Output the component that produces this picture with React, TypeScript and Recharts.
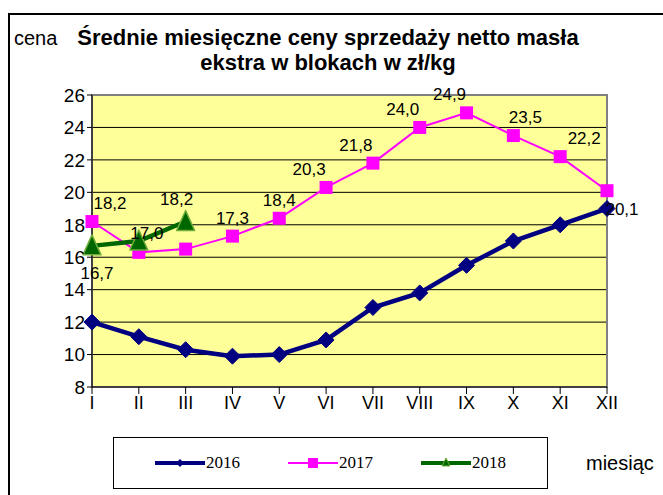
import React from "react";
import {
  LineChart,
  Line,
  XAxis,
  YAxis,
  CartesianGrid,
  ReferenceArea,
  LabelList,
} from "recharts";

const months = ["I", "II", "III", "IV", "V", "VI", "VII", "VIII", "IX", "X", "XI", "XII"];
const prices2016 = [12.0, 11.1, 10.3, 9.9, 10.0, 10.9, 12.9, 13.8, 15.5, 17.0, 18.0, 19.0];
const prices2017 = [18.2, 16.3, 16.5, 17.3, 18.4, 20.3, 21.8, 24.0, 24.9, 23.5, 22.2, 20.1];
const prices2018 = [16.7, 17.0, 18.2];
const yTicks = [8, 10, 12, 14, 16, 18, 20, 22, 24, 26];

const data = months.map((m, i) => ({
  month: m,
  y2016: prices2016[i],
  y2017: prices2017[i],
  y2018: i < prices2018.length ? prices2018[i] : null,
}));

const FONT = "'Liberation Sans', Arial, sans-serif";

const Diamond = (props: any) => {
  const { cx, cy } = props;
  if (cx == null || cy == null) return null;
  const r = 8;
  return (
    <path
      d={`M${cx},${cy - r}L${cx + r},${cy}L${cx},${cy + r}L${cx - r},${cy}Z`}
      fill="#000080"
      stroke="#000080"
    />
  );
};

const Square = (props: any) => {
  const { cx, cy } = props;
  if (cx == null || cy == null) return null;
  const r = 6.5;
  return <rect x={cx - r} y={cy - r} width={r * 2} height={r * 2} fill="#FF00FF" />;
};

const Triangle = (props: any) => {
  const { cx, cy } = props;
  if (cx == null || cy == null) return null;
  return (
    <path
      d={`M${cx},${cy - 11}L${cx + 9},${cy + 9}L${cx - 9},${cy + 9}Z`}
      fill="#006600"
      stroke="#6FAE3A"
      strokeWidth={1.5}
      strokeLinejoin="round"
    />
  );
};

const fmt = (v: number) => v.toFixed(1).replace(".", ",");

// placement of data labels, roughly as in the original
const label2017 = (props: any) => {
  const { x, y, value, index } = props;
  if (index === 1 || index === 2) return null;
  let dx = 0;
  let dy = -18;
  if (index === 0) dx = 18;
  if (index >= 5 && index <= 8) dx = -17;
  if (index === 9) dx = 12;
  if (index === 10) dx = 24;
  if (index === 11) {
    dx = 15;
    dy = 19;
  }
  return (
    <text x={x + dx} y={y + dy} textAnchor="middle" dominantBaseline="central" fontSize={17} fontFamily={FONT} fill="#000">
      {fmt(value)}
    </text>
  );
};

const label2018 = (props: any) => {
  const { x, y, value, index } = props;
  if (value == null) return null;
  let dx = 0;
  let dy = -22;
  if (index === 0) {
    dx = 5;
    dy = 28;
  }
  if (index === 1) {
    dx = 8;
    dy = -8;
  }
  if (index === 2) dx = -9;
  return (
    <text x={x + dx} y={y + dy} textAnchor="middle" dominantBaseline="central" fontSize={17} fontFamily={FONT} fill="#000">
      {fmt(value)}
    </text>
  );
};

const legendItems = [
  { name: "2016", color: "#000080", width: 4, marker: "diamond" },
  { name: "2017", color: "#FF00FF", width: 2, marker: "square" },
  { name: "2018", color: "#006600", width: 4, marker: "triangle" },
];

const LegendIcon = ({ item }: { item: (typeof legendItems)[number] }) => (
  <svg width={50} height={14} style={{ display: "block" }}>
    <line x1={0} y1={7} x2={50} y2={7} stroke={item.color} strokeWidth={item.width} strokeLinecap="round" />
    {item.marker === "diamond" && <path d="M25,3L29,7L25,11L21,7Z" fill="#000080" />}
    {item.marker === "square" && <rect x={20} y={2} width={10} height={10} fill="#FF00FF" />}
    {item.marker === "triangle" && <path d="M25,2L29,10L21,10Z" fill="#006600" stroke="#6FAE3A" />}
  </svg>
);

export default function App() {
  return (
    <div style={{ position: "absolute", left: 0, top: 0, width: 663, height: 495, background: "#fff", overflow: "hidden" }}>
      <div
        style={{
          position: "absolute",
          left: 8,
          top: 13,
          width: 700,
          height: 500,
          borderTop: "2px solid #000",
          borderLeft: "2px solid #000",
        }}
      />
      <div style={{ position: "absolute", left: 14, top: 27, fontFamily: FONT, fontSize: 20 }}>cena</div>
      <div
        style={{
          position: "absolute",
          left: 68,
          top: 25,
          width: 520,
          textAlign: "center",
          fontFamily: FONT,
          fontWeight: "bold",
          fontSize: 22,
          lineHeight: "25px",
        }}
      >
        Średnie miesięczne ceny sprzedaży netto masła
        <br />
        ekstra w blokach w zł/kg
      </div>

      <div style={{ position: "absolute", left: 0, top: 0 }}>
        <LineChart width={663} height={495} data={data} margin={{ top: 95, right: 56, bottom: 78, left: 0 }}>
          <CartesianGrid vertical={false} fill="#FFFF99" stroke="#000" strokeOpacity={1} />
          <ReferenceArea x1="I" x2="XII" y1={8} y2={26} fill="none" stroke="#808080" strokeWidth={2} />
          <XAxis
            dataKey="month"
            height={30}
            tickSize={7}
            axisLine={{ stroke: "#000" }}
            tickLine={{ stroke: "#000" }}
            tick={{ fill: "#000", fontSize: 18, fontFamily: FONT }}
            interval={0}
          />
          <YAxis
            width={92}
            domain={[8, 26]}
            ticks={yTicks}
            tickSize={5}
            axisLine={{ stroke: "#000" }}
            tickLine={{ stroke: "#000" }}
            tick={{ fill: "#000", fontSize: 19, fontFamily: FONT }}
            interval={0}
          />
          <Line
            dataKey="y2016"
            stroke="#000080"
            strokeWidth={4.5}
            dot={<Diamond />}
            isAnimationActive={false}
          />
          <Line
            dataKey="y2017"
            stroke="#FF00FF"
            strokeWidth={2}
            dot={<Square />}
            isAnimationActive={false}
          >
            <LabelList dataKey="y2017" content={label2017} />
          </Line>
          <Line
            dataKey="y2018"
            stroke="#006600"
            strokeWidth={4.5}
            dot={<Triangle />}
            isAnimationActive={false}
          >
            <LabelList dataKey="y2018" content={label2018} />
          </Line>
        </LineChart>
      </div>

      <div
        style={{
          position: "absolute",
          left: 113,
          top: 437,
          width: 435,
          height: 52,
          border: "1px solid #000",
          boxSizing: "border-box",
          fontFamily: "'Liberation Serif', 'Times New Roman', serif",
          fontSize: 17,
        }}
      >
        {legendItems.map((item, i) => (
          <div
            key={item.name}
            style={{ display: "flex", alignItems: "center", position: "absolute", top: 15, left: 41 + i * 133 }}
          >
            <LegendIcon item={item} />
            <span style={{ marginLeft: 1 }}>{item.name}</span>
          </div>
        ))}
      </div>
      <div style={{ position: "absolute", left: 586, top: 452, fontFamily: FONT, fontSize: 20 }}>miesiąc</div>
    </div>
  );
}
